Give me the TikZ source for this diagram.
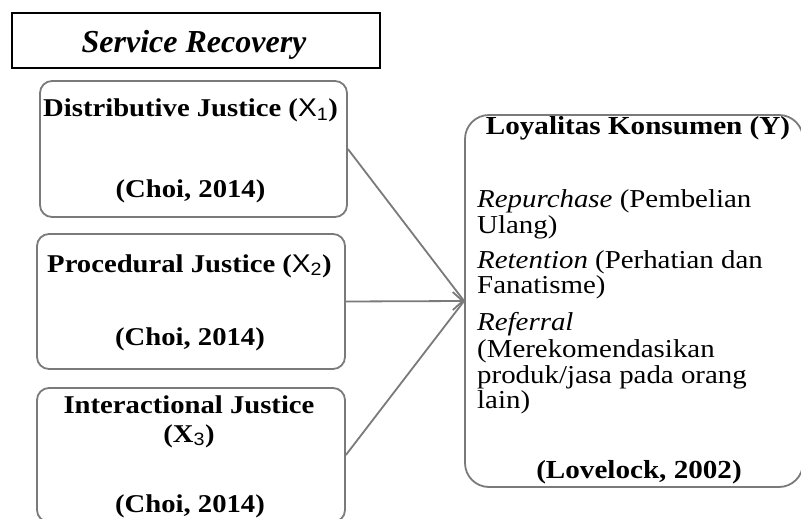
\documentclass[tikz,border=0pt]{standalone}
\usepackage{fontspec}
\setmainfont{Liberation Serif}
\newfontfamily\wserif[FakeStretch=1.12]{Liberation Serif}
\newfontfamily\wsans[FakeStretch=1.1]{Liberation Sans}
\usetikzlibrary{arrows.meta}
\definecolor{boxgray}{HTML}{7A7A7A}
\begin{document}
\begin{tikzpicture}[x=1pt,y=-1pt,
  box/.style={draw=boxgray, line width=1.8pt, rounded corners=12pt, inner sep=0pt},
  titlebox/.style={draw=black, line width=1.2pt, inner sep=0pt},
  lbl/.style={anchor=base, inner sep=0pt, font=\wserif\fontsize{25.6}{26}\selectfont\bfseries},
  ylbl/.style={anchor=base, inner sep=0pt, font=\wserif\fontsize{26}{26}\selectfont\bfseries},
  item/.style={anchor=base west, inner sep=0pt, font=\wserif\fontsize{25.8}{26}\selectfont},
  link/.style={draw=boxgray, line width=1.8pt}]
\useasboundingbox (0,0) rectangle (801,519);
\fill[white] (0,0) rectangle (801,519);
\begin{scope}
\clip (0,0) rectangle (801,519);
% title
\node[titlebox, minimum width=368pt, minimum height=55pt] (sr) at (196,40.5) {};
\node[anchor=base, inner sep=0pt, font=\fontsize{32}{34}\selectfont\bfseries\itshape] (srt) at (194,53) {Service Recovery};
% left boxes
\node[box, minimum width=307pt, minimum height=136pt] (b1) at (193.5,149) {};
\node[box, minimum width=308pt, minimum height=135pt] (b2) at (191,301.5) {};
\node[box, minimum width=308pt, minimum height=134pt] (b3) at (191,455) {};
\node[lbl] (b1a) at (190.5,117) {Distributive Justice ({\wsans\mdseries X}\textsubscript{\wsans\mdseries 1})};
\node[lbl] (b1b) at (190.5,197) {(Choi, 2014)};
\node[lbl] (b2a) at (189.5,272) {Procedural Justice ({\wsans\mdseries X}\textsubscript{\wsans\mdseries 2})};
\node[lbl] (b2b) at (190,345) {(Choi, 2014)};
\node[lbl] (b3a) at (189,413) {Interactional Justice};
\node[lbl] (b3b) at (189,442) {(X\textsubscript{\wsans\mdseries 3})};
\node[lbl] (b3c) at (190,512) {(Choi, 2014)};
% right box
\node[box, rounded corners=24pt, minimum width=338pt, minimum height=372pt] (yb) at (634,301) {};
\node[ylbl] (yt) at (638,135) {Loyalitas Konsumen (Y)};
\node[item] (i1) at (477,207) {\textit{Repurchase} (Pembelian};
\node[item] (i2) at (477,233) {Ulang)};
\node[item] (i3) at (477,268) {\textit{Retention} (Perhatian dan};
\node[item] (i4) at (477,293) {Fanatisme)};
\node[item] (i5) at (477,330) {\textit{Referral}};
\node[item] (i6) at (477,357) {(Merekomendasikan};
\node[item] (i7) at (477,383) {produk/jasa pada orang};
\node[item] (i8) at (477,408) {lain)};
\node[ylbl] (yc) at (639,478) {(Lovelock, 2002)};
% connectors
\draw[link] (b1.east) -- (yb.west);
\draw[link] (b3.east) -- (yb.west);
\draw[link, -{Straight Barb[length=10pt,width=18pt,line width=1.8pt]}] (b2.east) -- (yb.west);
\end{scope}
\end{tikzpicture}
\end{document}
